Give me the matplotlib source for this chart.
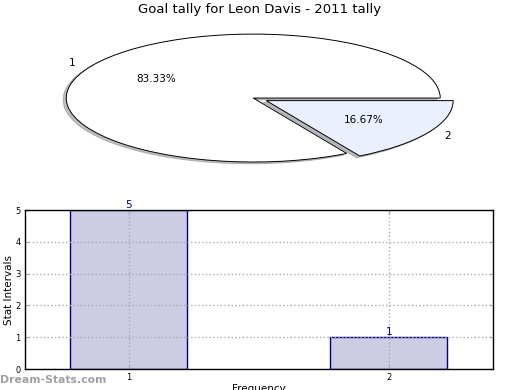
import matplotlib
matplotlib.use("Agg")
import matplotlib.pyplot as plt

title = "Goal tally for Leon Davis - 2011 tally"
pie_labels = ["1", "2"]
pie_values = [5, 1]
pie_colors = ["#ffffff", "#ebf0ff"]
bar_cats = [1, 2]
bar_values = [5, 1]

fig = plt.figure(figsize=(5.2, 3.9), dpi=100)

# Pie
axp = fig.add_axes([0.0375, 0.5436, 0.899, 0.41])
wedges, texts, autotexts = axp.pie(
    pie_values, labels=pie_labels, colors=pie_colors, explode=[0, 0.08],
    autopct="%1.2f%%", startangle=0, counterclock=True,
    shadow={"ox": -0.012, "oy": -0.02, "shade": 0.5},
    labeldistance=1.1, pctdistance=0.6,
    wedgeprops=dict(edgecolor="black", linewidth=0.7),
    textprops=dict(fontsize=7.5))
axp.set_aspect("auto")
axp.set_xlim(-1.25, 1.25)
axp.set_ylim(-1.25, 1.25)
axp.axis("off")
fig.text(0.5, 0.975, title, ha="center", va="center", fontsize=9.5)

# Bars
axb = fig.add_axes([0.048, 0.0538, 0.9, 0.4077])
bars = axb.bar(bar_cats, bar_values, width=0.45, color="#ccccE5",
               edgecolor="#000080", linewidth=1, zorder=2)
for x, v in zip(bar_cats, bar_values):
    axb.text(x, v, str(v), ha="center", va="bottom", color="#000080", fontsize=7.5,
             zorder=5)
axb.set_xlim(0.6, 2.4)
axb.set_ylim(0, 5)
axb.set_xticks(bar_cats)
axb.set_yticks([0, 1, 2, 3, 4, 5])
axb.tick_params(direction="in", labelsize=6, length=3, color="#aaaaaa",
                top=True, right=True, pad=3)
axb.grid(True, linestyle=":", color="#aaaaaa", linewidth=1, zorder=3)
axb.set_axisbelow(False)
axb.set_ylabel("Stat Intervals", fontsize=7.5)
axb.yaxis.set_label_coords(-0.0235, 0.5)
axb.set_xlabel("Frequency", fontsize=7.5, labelpad=1)
for s in axb.spines.values():
    s.set_linewidth(1)
    s.set_zorder(4)

fig.text(0.0, 0.025, "Dream-Stats.com", color="#a0a0a0", fontsize=7.8,
         fontweight="bold", ha="left", va="center")

fig.savefig("out.png", dpi=100)
